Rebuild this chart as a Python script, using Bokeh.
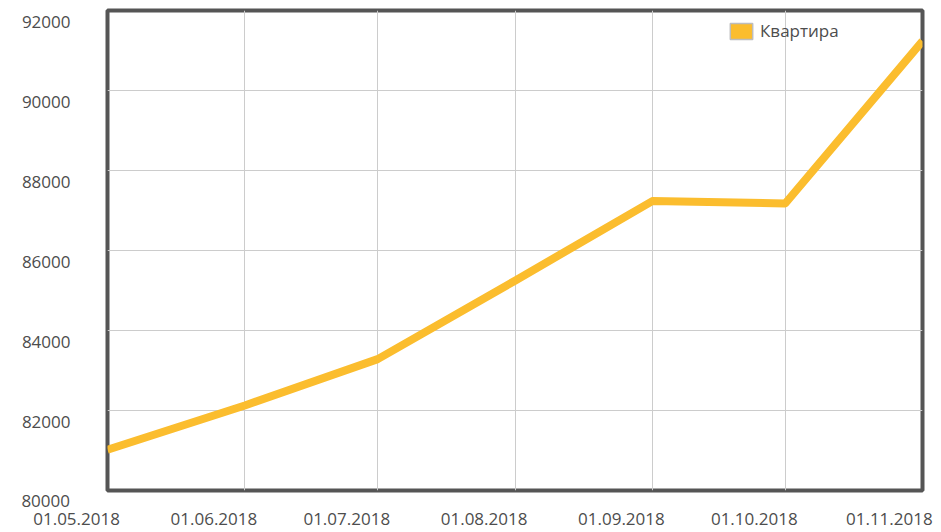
import pandas as pd
from bokeh.plotting import figure
from bokeh.models import (ColumnDataSource, Range1d, FixedTicker, Legend, LegendItem,
                          LinearAxis)
from bokeh.embed import file_html
from bokeh.resources import INLINE

# ---- data ----
dates = ["2018-05-01", "2018-06-01", "2018-07-01", "2018-08-01",
         "2018-09-01", "2018-10-01", "2018-11-01"]
date_labels = ["01.05.2018", "01.06.2018", "01.07.2018", "01.08.2018",
               "01.09.2018", "01.10.2018", "01.11.2018"]
prices = [81020, 82125, 83285, 85245, 87235, 87175, 91235]
y_ticks = [80000, 82000, 84000, 86000, 88000, 90000, 92000]
y_tick_labels = ["80000", "82000", "84000", "86000", "88000", "90000", "92000"]
series_name = "Квартира"

FONT = "Open Sans"
TEXT_COLOR = "#4d4d4d"
LINE_COLOR = "#FBBD2E"

W, H = 941, 532
BL, BR, BT, BB = 107, 19, 10, 42
FRAME_H = H - BT - BB

x_dt = pd.to_datetime(dates)
x_ms = [float(v) for v in (x_dt.astype("int64") // 10**6)]

p = figure(width=W, height=H, x_axis_type="datetime",
           x_range=Range1d(x_ms[0], x_ms[-1]),
           y_range=Range1d(y_ticks[0], y_ticks[-1]),
           output_backend="svg", toolbar_location=None,
           min_border_left=BL, min_border_right=BR,
           min_border_top=BT, min_border_bottom=BB)

p.xaxis.visible = False
p.yaxis.visible = False
p.xgrid.ticker = FixedTicker(ticks=x_ms)
p.ygrid.ticker = FixedTicker(ticks=y_ticks)
p.xgrid.grid_line_color = "#cccccc"
p.ygrid.grid_line_color = "#cccccc"
p.xgrid.grid_line_width = 1
p.ygrid.grid_line_width = 1

p.outline_line_color = "#555555"
p.outline_line_width = 4
p.background_fill_color = "white"
p.border_fill_color = "white"

src = ColumnDataSource(dict(x=x_ms, y=prices))
p.line("x", "y", source=src, line_color=LINE_COLOR, line_width=8, line_join="round")

# legend swatch: a quad renderer with a NaN row (draws nothing in the plot)
nan = float("nan")
sw_src = ColumnDataSource(dict(left=[nan], right=[nan], top=[nan], bottom=[nan]))
sw = p.quad(left="left", right="right", top="top", bottom="bottom", source=sw_src,
            fill_color=LINE_COLOR, line_color="#bdbdbd", line_width=1.5)

legend = Legend(items=[LegendItem(label=series_name, renderers=[sw])],
                location=(620, 448), padding=0, margin=0, spacing=0,
                glyph_width=28, glyph_height=20, label_height=20,
                label_standoff=5, border_line_color=None,
                background_fill_alpha=0,
                label_text_font=FONT, label_text_font_size="17px",
                label_text_color=TEXT_COLOR)
p.add_layout(legend)

# ---- tick labels ----
# y labels sit ~11px below their grid lines: an axis on a slightly shifted range.
dy = 11 / FRAME_H * (y_ticks[-1] - y_ticks[0])
p.extra_y_ranges = {"ylbl": Range1d(y_ticks[0] + dy, y_ticks[-1] + dy)}
yax = LinearAxis(y_range_name="ylbl", ticker=FixedTicker(ticks=y_ticks[1:]))

# x labels sit ~31px left of their grid lines (trailing no-break spaces);
# the lowest y label ("80000") is the first line of the first x label.
NBSP = "\u00a0"
x_text = []
for i, lbl in enumerate(date_labels):
    if i == 0:
        x_text.append(y_tick_labels[0] + NBSP * 28 + "\n" + lbl + NBSP * 14)
    elif i == len(date_labels) - 1:
        x_text.append("\n" + lbl + NBSP * 2)
    else:
        x_text.append("\n" + lbl + NBSP * 14)
xax = LinearAxis(ticker=FixedTicker(ticks=x_ms),
                 major_label_overrides=dict(zip(x_ms, x_text)))

for ax, standoff in ((xax, -2), (yax, 37)):
    ax.axis_line_color = None
    ax.major_tick_line_color = None
    ax.minor_tick_line_color = None
    ax.major_tick_out = 0
    ax.major_tick_in = 0
    ax.minor_tick_out = 0
    ax.minor_tick_in = 0
    ax.major_label_standoff = standoff
    ax.major_label_text_font = FONT
    ax.major_label_text_font_size = "17px"
    ax.major_label_text_color = TEXT_COLOR
xax.major_label_text_line_height = 0.8
p.add_layout(xax, "below")
p.add_layout(yax, "left")

open("out.html", "w").write(file_html(p, INLINE))
